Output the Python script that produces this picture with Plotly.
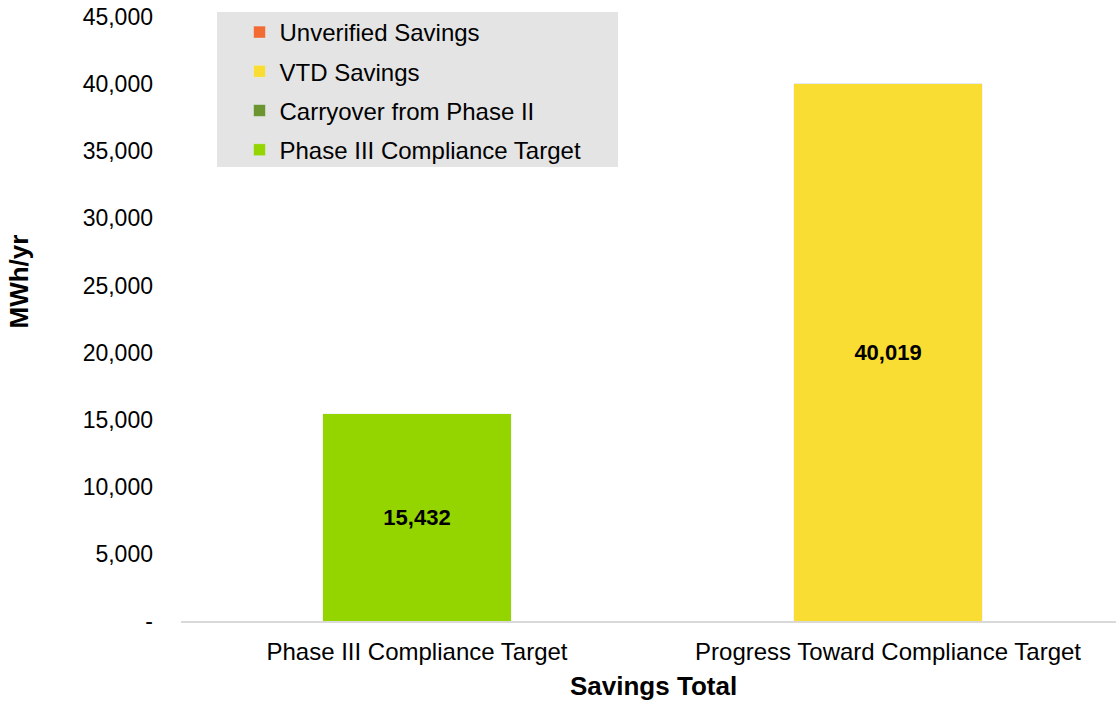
import plotly.graph_objects as go

categories = ["Phase III Compliance Target", "Progress Toward Compliance Target"]
unverified = [0, 0]
vtd = [0, 40019]
carryover = [0, 0]
target = [15432, 0]

tick_vals = [0, 5000, 10000, 15000, 20000, 25000, 30000, 35000, 40000, 45000]
tick_text = ["-", "5,000", "10,000", "15,000", "20,000", "25,000", "30,000", "35,000", "40,000", "45,000"]

series = [
    ("Unverified Savings", unverified, "#f26b33"),
    ("VTD Savings", vtd, "#fadd32"),
    ("Carryover from Phase II", carryover, "#6a9530"),
    ("Phase III Compliance Target", target, "#94d500"),
]

FONT = "Liberation Sans, Arial, sans-serif"
W, H = 1116, 702
L, R, T, B = 181, 0, 17, 81
PW, PH = W - L - R, H - T - B

def px_x(px):
    return (px - L) / PW

def px_y(py):
    return (H - B - py) / PH

fig = go.Figure()
for name, vals, color in series:
    fig.add_trace(go.Bar(
        x=categories, y=vals, name=name, marker_color=color, width=0.401,
        legendgroup=name,
        text=[f"{v:,}" if v else "" for v in vals],
        textposition="inside", insidetextanchor="middle",
        textfont=dict(family=FONT, size=22, color="black", weight="bold"),
        hoverinfo="skip",
    ))

fig.update_layout(
    barmode="stack",
    width=W, height=H,
    margin=dict(l=L, r=R, t=T, b=B),
    paper_bgcolor="white", plot_bgcolor="white",
    font=dict(family=FONT, size=24, color="black"),
    showlegend=True,
    legend=dict(
        x=px_x(239.5), y=px_y(10), xanchor="left", yanchor="top",
        bgcolor="rgba(0,0,0,0)", traceorder="reversed+grouped",
        tracegroupgap=5, itemwidth=30,
        font=dict(family=FONT, size=24, color="black"),
    ),
    shapes=[dict(type="rect", xref="paper", yref="paper",
                 x0=px_x(217), x1=px_x(618), y0=px_y(167), y1=px_y(12),
                 fillcolor="#e4e4e4", line=dict(width=0), layer="below")],
    annotations=[
        dict(text="<b>MWh/yr</b>", xref="paper", yref="paper",
             x=px_x(18.5), y=px_y(282), xanchor="center", yanchor="middle",
             textangle=-90, showarrow=False, font=dict(family=FONT, size=26)),
        dict(text="<b>Savings Total</b>", xref="paper", yref="paper",
             x=px_x(653), y=px_y(686), xanchor="center", yanchor="middle",
             showarrow=False, font=dict(family=FONT, size=26)),
    ],
)
fig.update_xaxes(
    range=[-0.501, 1.484],
    showline=True, linecolor="#d9d9d9", linewidth=2, showgrid=False, ticks="",
    tickfont=dict(family=FONT, size=24), ticklabelstandoff=8,
)
fig.update_yaxes(
    range=[0, 45000], tickvals=tick_vals, ticktext=tick_text,
    showgrid=False, zeroline=False, showline=False, ticks="",
    tickfont=dict(family=FONT, size=23), ticklabelstandoff=27,
)

fig.write_html("out.html", config={"displayModeBar": False},
               post_script="document.body.style.margin='0px';")
